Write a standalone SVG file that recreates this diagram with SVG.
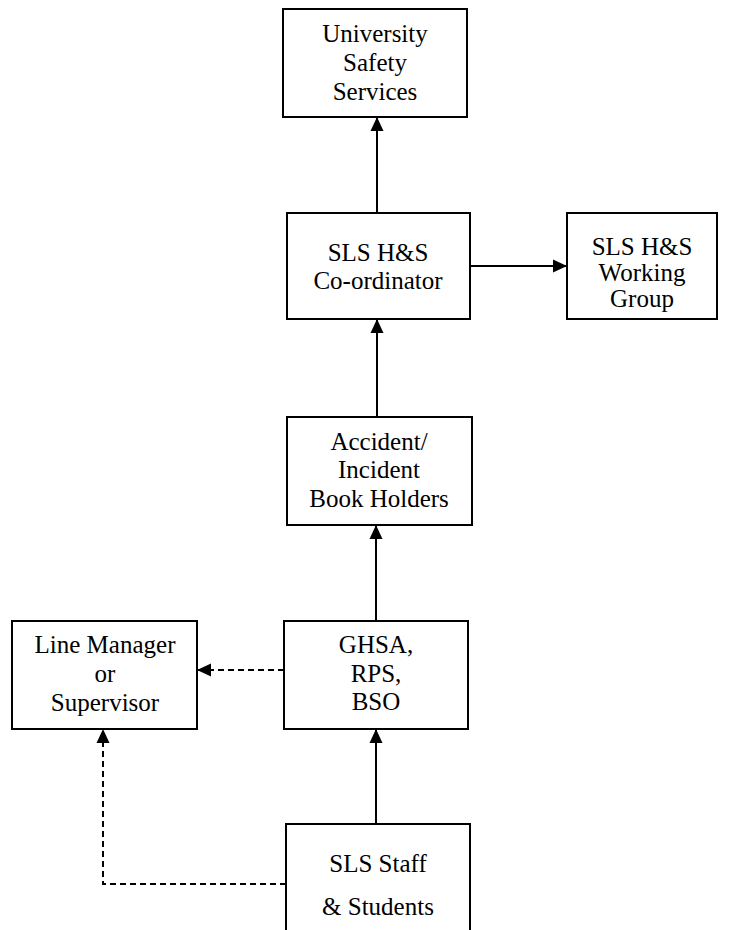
<svg xmlns="http://www.w3.org/2000/svg" width="738" height="930" viewBox="0 0 738 930">
<style>
.box{fill:#fff;stroke:#000;stroke-width:2}
text{font-family:"Liberation Serif","Times New Roman",serif;font-size:25px;fill:#000;text-anchor:middle}
.c{fill:none;stroke:#000;stroke-width:2}
.d{stroke-dasharray:6,4}
</style>
<defs>
<marker id="ah" markerWidth="14" markerHeight="14" refX="13" refY="7" orient="auto" markerUnits="userSpaceOnUse">
<path d="M0,0.5 L14,7 L0,13.5 Z" fill="#000"/>
</marker>
</defs>
<rect width="738" height="930" fill="#fff"/>
<g id="connectors">
<line class="c" x1="377" y1="212" x2="377" y2="118" marker-end="url(#ah)"/>
<line class="c" x1="470" y1="266" x2="566" y2="266" marker-end="url(#ah)"/>
<line class="c" x1="377" y1="417" x2="377" y2="320" marker-end="url(#ah)"/>
<line class="c" x1="376" y1="621" x2="376" y2="526" marker-end="url(#ah)"/>
<line class="c" x1="376" y1="824" x2="376" y2="730" marker-end="url(#ah)"/>
<line class="c d" x1="284" y1="670" x2="198" y2="670" marker-end="url(#ah)"/>
<polyline class="c d" points="286,884 103,884 103,730" marker-end="url(#ah)"/>
</g>
<g id="uss">
<rect class="box" x="283" y="9" width="184" height="108"/>
<text x="375" y="42">University</text>
<text x="375" y="71">Safety</text>
<text x="375" y="100">Services</text>
</g>
<g id="coord">
<rect class="box" x="287" y="213" width="183" height="106"/>
<text x="378" y="261">SLS H&amp;S</text>
<text x="378" y="289">Co-ordinator</text>
</g>
<g id="wg">
<rect class="box" x="567" y="213" width="150" height="106"/>
<text x="642" y="255">SLS H&amp;S</text>
<text x="642" y="281">Working</text>
<text x="642" y="307">Group</text>
</g>
<g id="accident">
<rect class="box" x="287" y="417" width="185" height="108"/>
<text x="379" y="450">Accident/</text>
<text x="379" y="478">Incident</text>
<text x="379" y="507">Book Holders</text>
</g>
<g id="lm">
<rect class="box" x="12" y="621" width="185" height="108"/>
<text x="105" y="653">Line Manager</text>
<text x="105" y="682">or</text>
<text x="105" y="711">Supervisor</text>
</g>
<g id="ghsa">
<rect class="box" x="284" y="621" width="184" height="108"/>
<text x="376" y="653">GHSA,</text>
<text x="376" y="682">RPS,</text>
<text x="376" y="710">BSO</text>
</g>
<g id="staff">
<rect class="box" x="286" y="824" width="184" height="120"/>
<text x="378" y="872">SLS Staff</text>
<text x="378" y="915">&amp; Students</text>
</g>
</svg>
